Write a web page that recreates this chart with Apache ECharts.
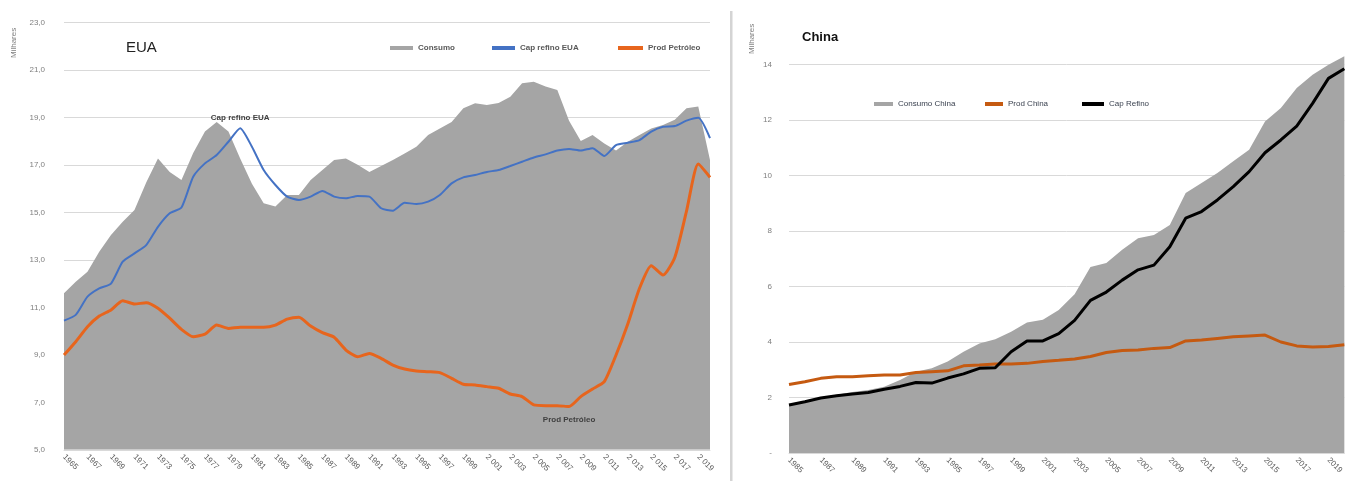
<!DOCTYPE html>
<html>
<head>
<meta charset="utf-8">
<script src="https://cdn.jsdelivr.net/npm/echarts@6/dist/echarts.min.js"></script>
<style>
  html, body { margin: 0; padding: 0; background: #fff; overflow: hidden; }
  #container { width: 1346px; height: 481px; }
</style>
</head>
<body>
<div id="container"></div>
<script>
var dom = document.getElementById("container");
var myChart = echarts.init(dom, null, { renderer: "canvas" });

// EUA, 1965-2020 (milhares de barris/dia)
var usYears = [];
for (var y = 1965; y <= 2020; y++) usYears.push(String(y));
var usConsumo = [11.59, 12.08, 12.5, 13.34, 14.04, 14.6, 15.1, 16.25, 17.27, 16.7,
    16.36, 17.5, 18.4, 18.8, 18.4, 17.27, 16.2, 15.38, 15.24, 15.73,
    15.73, 16.36, 16.78, 17.2, 17.27, 17.0, 16.7, 16.95, 17.2, 17.48,
    17.76, 18.25, 18.53, 18.8, 19.38, 19.59, 19.52, 19.6, 19.87, 20.43,
    20.5, 20.3, 20.15, 18.85, 18.0, 18.25, 17.9, 17.6, 17.97, 18.25,
    18.53, 18.68, 18.9, 19.38, 19.45, 17.2];
var usCapRefino = [10.44, 10.68, 11.45, 11.8, 12.0, 12.92, 13.27, 13.62, 14.39, 14.96,
    15.2, 16.5, 17.06, 17.41, 17.97, 18.54, 17.76, 16.78, 16.15, 15.66,
    15.52, 15.66, 15.9, 15.66, 15.59, 15.69, 15.66, 15.17, 15.07, 15.4,
    15.35, 15.45, 15.73, 16.22, 16.47, 16.57, 16.7, 16.78, 16.95, 17.13,
    17.31, 17.44, 17.6, 17.67, 17.6, 17.7, 17.37, 17.83, 17.93, 18.04,
    18.4, 18.6, 18.63, 18.86, 18.98, 18.12];
var usProd = [8.99, 9.55, 10.18, 10.63, 10.89, 11.28, 11.14, 11.19, 10.96, 10.54,
    10.07, 9.76, 9.87, 10.25, 10.11, 10.16, 10.16, 10.16, 10.25, 10.5,
    10.58, 10.21, 9.93, 9.74, 9.2, 8.92, 9.06, 8.85, 8.57, 8.4,
    8.32, 8.29, 8.25, 8.01, 7.76, 7.73, 7.66, 7.59, 7.35, 7.24,
    6.89, 6.86, 6.86, 6.82, 7.24, 7.56, 7.87, 8.99, 10.3, 11.8,
    12.75, 12.36, 13.1, 15.05, 17.03, 16.47];

// China, 1985-2020
var cnYears = [];
for (var y2 = 1985; y2 <= 2020; y2++) cnYears.push(String(y2));
var cnConsumo = [1.73, 1.85, 2.0, 2.1, 2.2, 2.27, 2.39, 2.63, 2.93, 3.05,
    3.3, 3.65, 3.95, 4.1, 4.37, 4.7, 4.8, 5.15, 5.72, 6.7,
    6.85, 7.32, 7.74, 7.86, 8.22, 9.37, 9.73, 10.09, 10.51, 10.93,
    11.95, 12.43, 13.15, 13.63, 13.99, 14.3];
var cnProd = [2.47, 2.57, 2.69, 2.75, 2.75, 2.78, 2.81, 2.81, 2.9, 2.93,
    2.96, 3.14, 3.17, 3.21, 3.21, 3.23, 3.3, 3.34, 3.39, 3.48,
    3.62, 3.69, 3.71, 3.77, 3.8, 4.04, 4.07, 4.13, 4.19, 4.22,
    4.25, 4.0, 3.86, 3.82, 3.84, 3.9];
var cnCapRefino = [1.73, 1.85, 1.98, 2.06, 2.13, 2.18, 2.3, 2.4, 2.54, 2.52,
    2.7, 2.85, 3.05, 3.07, 3.65, 4.04, 4.04, 4.3, 4.78, 5.5,
    5.8, 6.23, 6.6, 6.77, 7.43, 8.46, 8.7, 9.12, 9.6, 10.14,
    10.82, 11.28, 11.78, 12.6, 13.5, 13.85];

var font = "'Liberation Sans', Arial, sans-serif";
var gridColor = "#d9d9d9";
var gray = "#a5a5a5";

function legendItem(name, left, top, w, color, bold) {
    return {
        data: [name],
        left: left,
        top: top,
        icon: "rect",
        itemWidth: w,
        itemHeight: 4,
        padding: 0,
        selectedMode: false,
        textStyle: { fontSize: 8, fontFamily: font, color: color, fontWeight: bold ? "bold" : "normal" }
    };
}

var option = {
    animation: false,
    textStyle: { fontFamily: font },
    grid: [
        { left: 64, top: 22.3, width: 646, height: 427.5 },
        // the China chart is cut at the right edge: 2020 sits just outside the window
        { left: 789, top: 9, width: 560, height: 444 }
    ],
    graphic: [
        { type: "text", left: 126, top: 40, style: { text: "EUA", fontSize: 15, fill: "#222", fontFamily: font } },
        { type: "text", x: 10, y: 58, rotation: Math.PI / 2, style: { text: "Milhares", fontSize: 8, fill: "#7f7f7f", fontFamily: font } },
        { type: "rect", shape: { x: 730, y: 11, width: 2.5, height: 470 }, style: { fill: "#d4d4d4" } },
        { type: "text", left: 802, top: 31, style: { text: "China", fontSize: 13, fontWeight: "bold", fill: "#111", fontFamily: font } },
        { type: "text", x: 748, y: 54, rotation: Math.PI / 2, style: { text: "Milhares", fontSize: 8, fill: "#7f7f7f", fontFamily: font } }
    ],
    legend: [
        legendItem("Consumo", 390, 44, 23, "#595959", true),
        legendItem("Cap refino EUA", 492, 44, 23, "#595959", true),
        legendItem("Prod Petróleo", 618, 44, 25, "#595959", true),
        legendItem("Consumo China", 874, 100, 19, "#3b4250", false),
        legendItem("Prod China", 985, 100, 18, "#3b4250", false),
        legendItem("Cap Refino", 1082, 100, 22, "#3b4250", false)
    ],
    xAxis: [
        {
            gridIndex: 0,
            type: "category",
            boundaryGap: false,
            data: usYears,
            axisLine: { lineStyle: { color: gridColor } },
            axisTick: { show: false },
            axisLabel: {
                interval: 1, rotate: -45, fontSize: 8, color: "#595959", margin: 6,
                formatter: function (v) { return Number(v) > 2000 ? v.charAt(0) + " " + v.slice(1) : v; }
            }
        },
        {
            gridIndex: 1,
            type: "category",
            boundaryGap: false,
            data: cnYears,
            axisLine: { lineStyle: { color: gridColor } },
            axisTick: { show: false },
            axisLabel: { interval: 1, rotate: -45, fontSize: 8, color: "#595959", margin: 6 }
        }
    ],
    yAxis: [
        {
            gridIndex: 0,
            type: "value",
            min: 5, max: 23, interval: 2,
            axisLine: { show: false },
            axisTick: { show: false },
            splitLine: { lineStyle: { color: gridColor } },
            axisLabel: {
                fontSize: 8, color: "#7f7f7f", margin: 19,
                formatter: function (v) { return v.toFixed(1).replace(".", ","); }
            }
        },
        {
            gridIndex: 1,
            type: "value",
            min: 0, max: 16, interval: 2,
            axisLine: { show: false },
            axisTick: { show: false },
            splitLine: { showMaxLine: false, lineStyle: { color: gridColor } },
            axisLabel: {
                fontSize: 8, color: "#7f7f7f", margin: 17, showMaxLabel: false,
                formatter: function (v) { return v === 0 ? "-" : String(v); }
            }
        }
    ],
    series: [
        {
            name: "Consumo", type: "line", xAxisIndex: 0, yAxisIndex: 0,
            data: usConsumo, showSymbol: false, color: gray,
            itemStyle: { color: gray },
            lineStyle: { width: 0 },
            areaStyle: { color: gray, opacity: 1 },
            z: 1
        },
        {
            name: "Prod Petróleo", type: "line", xAxisIndex: 0, yAxisIndex: 0,
            data: usProd, showSymbol: false, smooth: 0.2, color: "#e7651d",
            itemStyle: { color: "#e7651d" },
            lineStyle: { width: 3, color: "#e7651d" },
            markPoint: {
                symbol: "circle", symbolSize: 0, silent: true,
                label: { show: true, position: "bottom", distance: 9, formatter: "Prod Petróleo", fontSize: 8, fontWeight: "bold", color: "#404040" },
                data: [{ coord: [usYears[43], usProd[43]] }]
            },
            z: 3
        },
        {
            name: "Cap refino EUA", type: "line", xAxisIndex: 0, yAxisIndex: 0,
            data: usCapRefino, showSymbol: false, smooth: 0.2, color: "#4472c4",
            itemStyle: { color: "#4472c4" },
            lineStyle: { width: 2, color: "#4472c4" },
            markPoint: {
                symbol: "circle", symbolSize: 0, silent: true,
                label: { show: true, position: "top", distance: 6, formatter: "Cap refino EUA", fontSize: 8, fontWeight: "bold", color: "#404040" },
                data: [{ coord: [usYears[15], usCapRefino[15]] }]
            },
            z: 4
        },
        {
            name: "Consumo China", type: "line", xAxisIndex: 1, yAxisIndex: 1,
            data: cnConsumo, showSymbol: false, color: gray,
            itemStyle: { color: gray },
            lineStyle: { width: 0 },
            areaStyle: { color: gray, opacity: 1 },
            z: 1
        },
        {
            name: "Prod China", type: "line", xAxisIndex: 1, yAxisIndex: 1,
            data: cnProd, showSymbol: false, color: "#c55a11",
            itemStyle: { color: "#c55a11" },
            lineStyle: { width: 3, color: "#c55a11" },
            z: 3
        },
        {
            name: "Cap Refino", type: "line", xAxisIndex: 1, yAxisIndex: 1,
            data: cnCapRefino, showSymbol: false, color: "#000",
            itemStyle: { color: "#000" },
            lineStyle: { width: 3, color: "#000" },
            z: 4
        }
    ]
};

if (option && typeof option === "object") {
    myChart.setOption(option);
}

window.addEventListener("resize", myChart.resize);
</script>
</body>
</html>
